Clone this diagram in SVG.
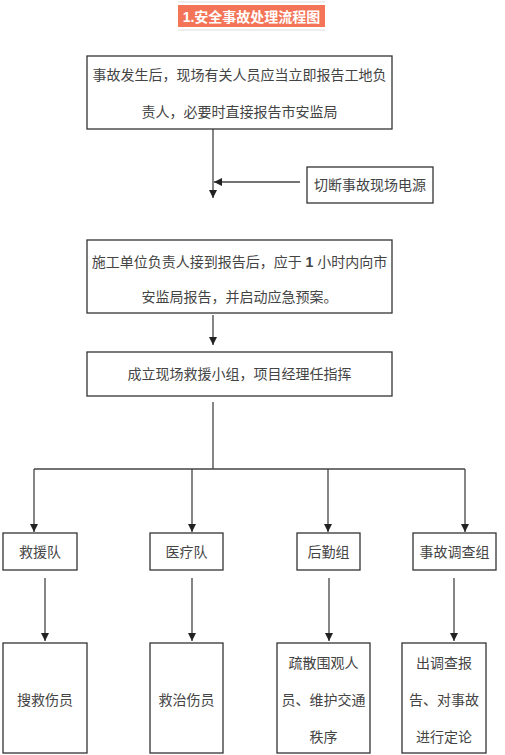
<svg xmlns="http://www.w3.org/2000/svg" width="505" height="755" viewBox="0 0 505 755">
<defs>
<marker id="ah" viewBox="0 0 10 10" refX="10" refY="5" markerWidth="8" markerHeight="8" markerUnits="userSpaceOnUse" orient="auto">
<path d="M0,0 L10,5 L0,10 z" fill="#222"/>
</marker>
<style>
.box{fill:#fff;stroke:#333;stroke-width:1.3}
.t{font-family:"Liberation Sans","Noto Sans CJK SC",sans-serif;font-size:14px;fill:#444;text-anchor:middle;dominant-baseline:central}
.ln{stroke:#444;stroke-width:1.3;fill:none}
.ar{stroke:#444;stroke-width:1.3;fill:none;marker-end:url(#ah)}
</style>
</defs>
<rect width="505" height="755" fill="#fff"/>
<g id="title">
<line x1="178" y1="2" x2="325" y2="2" stroke="#ddd" stroke-width="1"/>
<line x1="178" y1="30" x2="325" y2="30" stroke="#ddd" stroke-width="1"/>
<rect x="178" y="5" width="147" height="22" fill="#f47458"/>
<text x="251.5" y="16.5" class="t" style="fill:#fff;font-weight:bold;font-size:14px">1.安全事故处理流程图</text>
</g>
<g id="connectors">
<line class="ar" x1="213" y1="129" x2="213" y2="198"/>
<line class="ar" x1="300" y1="182" x2="214" y2="182"/>
<line class="ar" x1="213" y1="315" x2="213" y2="345"/>
<line class="ln" x1="213" y1="402" x2="213" y2="469"/>
<line class="ln" x1="34" y1="469" x2="465" y2="469"/>
<line class="ar" x1="34" y1="469" x2="34" y2="532"/>
<line class="ar" x1="192" y1="469" x2="192" y2="532"/>
<line class="ar" x1="328" y1="469" x2="328" y2="532"/>
<line class="ar" x1="465" y1="469" x2="465" y2="532"/>
<line class="ar" x1="45" y1="578" x2="45" y2="641"/>
<line class="ar" x1="192" y1="578" x2="192" y2="641"/>
<line class="ar" x1="329" y1="578" x2="329" y2="641"/>
<line class="ar" x1="454" y1="578" x2="454" y2="641"/>
</g>
<g id="n1">
<rect class="box" x="87" y="56" width="305" height="73"/>
<text class="t" x="239.5" y="75">事故发生后，现场有关人员应当立即报告工地负</text>
<text class="t" x="239.5" y="112">责人，必要时直接报告市安监局</text>
</g>
<g id="n2">
<rect class="box" x="307" y="167" width="126" height="36"/>
<text class="t" x="370" y="185">切断事故现场电源</text>
</g>
<g id="n3">
<rect class="box" x="87" y="240" width="305" height="73"/>
<text class="t" x="239.5" y="262">施工单位负责人接到报告后，应于 <tspan font-weight="bold">1</tspan> 小时内向市</text>
<text class="t" x="239.5" y="297">安监局报告，并启动应急预案。</text>
</g>
<g id="n4">
<rect class="box" x="87" y="352" width="305" height="44"/>
<text class="t" x="239.5" y="374">成立现场救援小组，项目经理任指挥</text>
</g>
<g id="n5">
<rect class="box" x="3" y="533" width="74" height="37"/>
<text class="t" x="40" y="552">救援队</text>
</g>
<g id="n6">
<rect class="box" x="150" y="533" width="73" height="37"/>
<text class="t" x="186.5" y="552">医疗队</text>
</g>
<g id="n7">
<rect class="box" x="297" y="533" width="63" height="37"/>
<text class="t" x="328.5" y="552">后勤组</text>
</g>
<g id="n8">
<rect class="box" x="413" y="533" width="83" height="37"/>
<text class="t" x="454.5" y="552">事故调查组</text>
</g>
<g id="n9">
<rect class="box" x="3" y="643" width="84" height="110"/>
<text class="t" x="45" y="700">搜救伤员</text>
</g>
<g id="n10">
<rect class="box" x="150" y="643" width="73" height="110"/>
<text class="t" x="186.5" y="700">救治伤员</text>
</g>
<g id="n11">
<rect class="box" x="277" y="643" width="93" height="110"/>
<text class="t" x="323.5" y="663">疏散围观人</text>
<text class="t" x="323.5" y="700">员、维护交通</text>
<text class="t" x="323.5" y="737">秩序</text>
</g>
<g id="n12">
<rect class="box" x="402" y="643" width="84" height="110"/>
<text class="t" x="444" y="663">出调查报</text>
<text class="t" x="444" y="700">告、对事故</text>
<text class="t" x="444" y="737">进行定论</text>
</g>
</svg>
